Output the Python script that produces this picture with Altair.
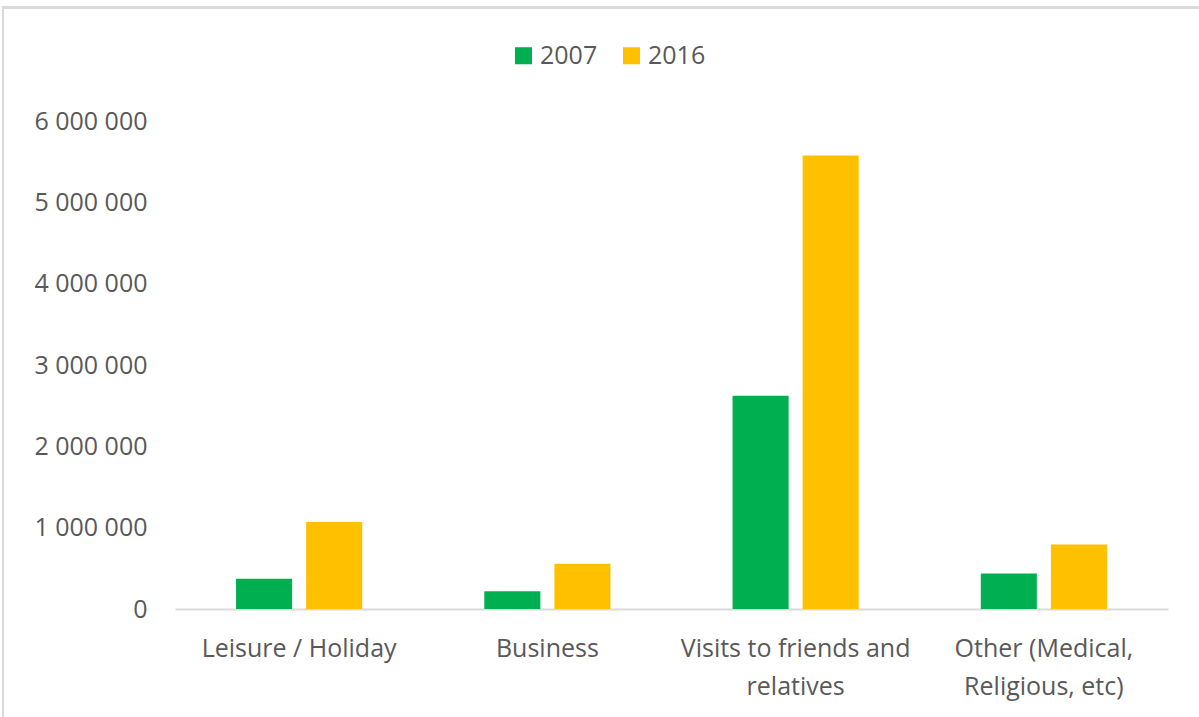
import altair as alt
import pandas as pd

categories = ["Leisure / Holiday", "Business", "Visits to friends and|relatives", "Other (Medical,|Religious, etc)"]
years = ["2007", "2016"]
values_2007 = [372000, 219000, 2623000, 436000]
values_2016 = [1071000, 555000, 5575000, 792000]
colors = ["#00B050", "#FFC000"]

rows = []
for c, v7, v16 in zip(categories, values_2007, values_2016):
    rows.append({"category": c, "year": "2007", "value": v7})
    rows.append({"category": c, "year": "2016", "value": v16})
df = pd.DataFrame(rows)

FONT = "Open Sans"
TXT = "#595959"

bars = alt.Chart(df).mark_bar().encode(
    x=alt.X("category:N", sort=categories,
            scale=alt.Scale(paddingInner=0, paddingOuter=0),
            axis=alt.Axis(title=None, labelAngle=0, ticks=False, domainColor="#D9D9D9",
                          domainWidth=2, labelFontSize=25, labelColor=TXT, labelFont=FONT,
                          labelPadding=27, labelLineHeight=38, labelLimit=0,
                          labelExpr="split(datum.label, '|')")),
    xOffset=alt.XOffset("year:N", scale=alt.Scale(paddingInner=0.2, paddingOuter=0.871)),
    y=alt.Y("value:Q", scale=alt.Scale(domain=[0, 6000000], nice=False),
            axis=alt.Axis(title=None, values=[0, 1000000, 2000000, 3000000, 4000000, 5000000, 6000000],
                          grid=False, ticks=False, domain=False, labelFontSize=25,
                          labelColor=TXT, labelFont=FONT, labelPadding=28,
                          labelExpr="replace(replace(format(datum.value, ','), ',', ' '), ',', ' ')")),
    color=alt.Color("year:N", scale=alt.Scale(domain=years, range=colors),
                    legend=alt.Legend(title=None, orient="none", legendX=336, legendY=-78,
                                      direction="horizontal", symbolType="square",
                                      symbolSize=290, symbolStrokeWidth=0, labelFontSize=25,
                                      labelColor=TXT, labelFont=FONT, labelOffset=4,
                                      columnPadding=21)),
)

frame_top = alt.Chart(df).mark_rule(color="#D9D9D9", strokeWidth=2).encode(
    x=alt.value(-172), x2=alt.value(1030), y=alt.value(-113.5))
frame_left = alt.Chart(df).mark_rule(color="#D9D9D9", strokeWidth=2).encode(
    x=alt.value(-172), y=alt.value(-114.5), y2=alt.value(620))

chart = alt.layer(frame_top, frame_left, bars).properties(
    width=993, height=488,
    autosize=alt.AutoSizeParams(type="none"),
    padding={"left": 175, "top": 121, "right": 31, "bottom": 108},
).configure(background="white").configure_view(strokeWidth=0, stroke=None)

chart.save("out.html", embed_options={"renderer": "svg", "actions": False})
